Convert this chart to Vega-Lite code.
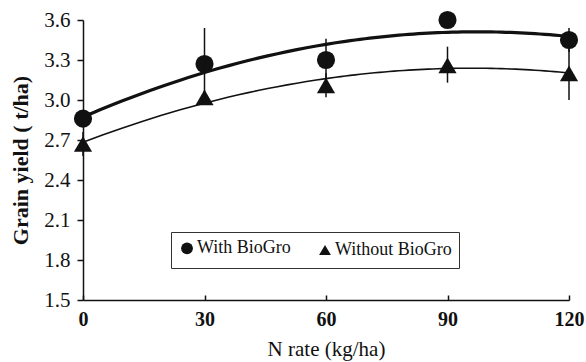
{
  "$schema": "https://vega.github.io/schema/vega-lite/v6.json",
  "width": 486,
  "height": 280,
  "autosize": {"type": "none"},
  "padding": {"left": 83, "top": 20, "right": 17, "bottom": 62},
  "background": "white",
  "config": {
    "view": {"stroke": null},
    "font": "Liberation Serif",
    "axis": {"grid": false, "domainColor": "#111", "tickColor": "#111", "labelColor": "#111", "titleColor": "#111", "domainWidth": 1.5, "tickWidth": 1.5}
  },
  "data": {"values": [
    {"n": 0, "series": "With BioGro", "y": 2.86, "lo": 2.86, "hi": 2.86},
    {"n": 30, "series": "With BioGro", "y": 3.27, "lo": 3.01, "hi": 3.54},
    {"n": 60, "series": "With BioGro", "y": 3.30, "lo": 3.14, "hi": 3.46},
    {"n": 90, "series": "With BioGro", "y": 3.60, "lo": 3.60, "hi": 3.60},
    {"n": 120, "series": "With BioGro", "y": 3.45, "lo": 3.36, "hi": 3.54},
    {"n": 0, "series": "Without BioGro", "y": 2.67, "lo": 2.58, "hi": 2.76},
    {"n": 30, "series": "Without BioGro", "y": 3.02, "lo": 2.97, "hi": 3.07},
    {"n": 60, "series": "Without BioGro", "y": 3.11, "lo": 3.02, "hi": 3.20},
    {"n": 90, "series": "Without BioGro", "y": 3.26, "lo": 3.13, "hi": 3.40},
    {"n": 120, "series": "Without BioGro", "y": 3.20, "lo": 3.00, "hi": 3.40}
  ]},
  "layer": [
    {
      "mark": {"type": "point", "filled": true, "opacity": 1, "color": "#111", "size": 330},
      "encoding": {
        "x": {
          "field": "n", "type": "quantitative",
          "scale": {"domain": [0, 120]},
          "axis": {"title": "N rate (kg/ha)", "values": [0, 30, 60, 90, 120], "tickCount": 10, "labelFontWeight": "bold", "labelFontSize": 20, "tickSize": -5, "labelPadding": 14, "titleFontSize": 21, "titleFontWeight": "normal", "titlePadding": 9, "labelFlush": false, "labelOverlap": false, "labelFont": "Liberation Serif", "titleFont": "Liberation Serif"}
        },
        "y": {
          "field": "y", "type": "quantitative",
          "scale": {"domain": [1.5, 3.6], "nice": false, "zero": false},
          "axis": {"title": "Grain yield ( t/ha)", "values": [1.5, 1.8, 2.1, 2.4, 2.7, 3.0, 3.3, 3.6], "tickCount": 10, "format": ".1f", "labelFontSize": 21, "tickSize": 6, "labelPadding": 7, "titleFontSize": 22, "titleFontWeight": "bold", "titlePadding": 11, "labelOverlap": false, "labelFlush": false, "labelFont": "Liberation Serif", "titleFont": "Liberation Serif"}
        },
        "shape": {
          "field": "series", "type": "nominal",
          "scale": {"domain": ["With BioGro", "Without BioGro"], "range": ["circle", "triangle-up"]},
          "legend": {"title": null, "orient": "none", "legendX": 88, "legendY": 212, "direction": "horizontal", "strokeColor": "#333", "fillColor": "white", "padding": 7, "labelFontSize": 18, "labelColor": "#111", "labelFont": "Liberation Serif", "symbolFillColor": "#111", "symbolStrokeColor": "#111", "symbolSize": 140, "symbolStrokeWidth": 0, "columnPadding": 24, "labelOffset": 1}
        }
      }
    },
    {
      "transform": [{"regression": "y", "on": "n", "groupby": ["series"], "method": "poly", "order": 2, "extent": [0, 120]}],
      "mark": {"type": "line", "color": "#111", "interpolate": "monotone"},
      "encoding": {
        "x": {"field": "n", "type": "quantitative"},
        "y": {"field": "y", "type": "quantitative"},
        "detail": {"field": "series"},
        "strokeWidth": {"field": "series", "type": "nominal", "scale": {"domain": ["With BioGro", "Without BioGro"], "range": [3.2, 1.6]}, "legend": null}
      }
    },
    {
      "mark": {"type": "rule", "color": "#111", "strokeWidth": 1.5},
      "encoding": {
        "x": {"field": "n", "type": "quantitative"},
        "y": {"field": "lo", "type": "quantitative"},
        "y2": {"field": "hi"}
      }
    }
  ]
}
